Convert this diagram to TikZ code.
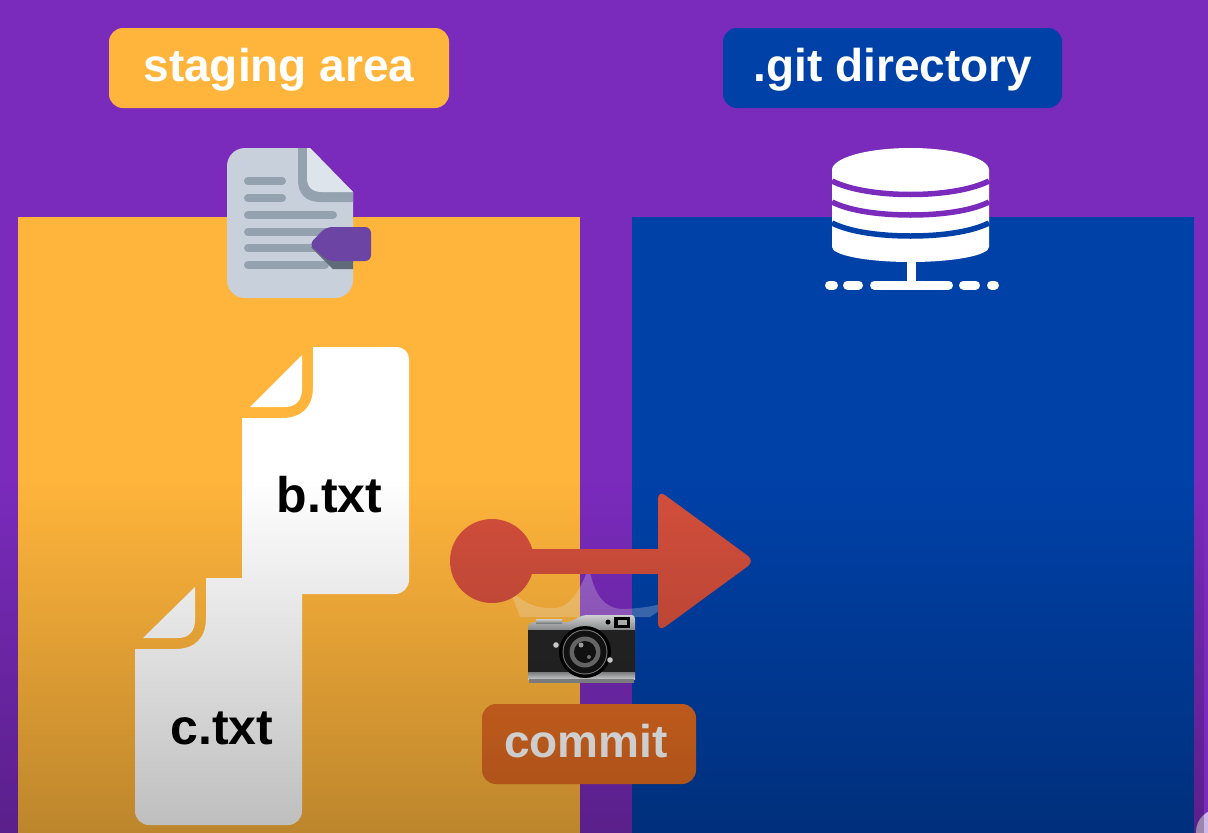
\documentclass[tikz,border=0pt]{standalone}
\usepackage{fontspec}
\setmainfont{Liberation Sans}
\usetikzlibrary{fadings}
\definecolor{bgpurple}{HTML}{7A2BBC}
\definecolor{panelorange}{HTML}{FFB53C}
\definecolor{panelblue}{HTML}{0041A8}
\definecolor{arrowred}{HTML}{D44F3C}
\definecolor{paperc}{HTML}{C8D0DC}
\definecolor{paperlight}{HTML}{DDE4EC}
\definecolor{paperline}{HTML}{93A2AE}
\definecolor{tagpurple}{HTML}{6B44A4}
\definecolor{tagshade}{HTML}{5F6B78}
\definecolor{commitbox}{HTML}{E26C22}
\definecolor{silverhi}{HTML}{E6E7E8}
\definecolor{silverlo}{HTML}{8E9092}
\tikzfading[name=dimfade, top color=transparent!100, bottom color=transparent!0]
\tikzset{
  x=1pt,y=-1pt,
  labelbox/.style={rounded corners=14pt,line width=0pt},
  labeltext/.style={text=white,font=\fontsize{46}{50}\selectfont\bfseries,anchor=base},
  filetext/.style={text=black,font=\fontsize{50}{54}\selectfont\bfseries,anchor=base},
  docline/.style={line width=8pt,line cap=round,draw=paperline},
  dbgap/.style={line width=5.5pt},
  dbdash/.style={line width=9pt,line cap=round,draw=white},
}
\begin{document}
\begin{tikzpicture}
\useasboundingbox (0,0) rectangle (1208,833);
\fill[bgpurple] (0,0) rectangle (1208,833);
% panels
\fill[panelorange] (18,217) rectangle (580,833);
\fill[panelblue] (632,217) rectangle (1194,833);
% label boxes
\fill[panelorange,labelbox] (109,28) rectangle (449,108);
\fill[panelblue,labelbox] (723,28) rectangle (1062,108);
\node[labeltext] (stagelabel) at (279,81) {staging area};
\node[labeltext] (gitlabel) at (893,81) {.git directory};
% document icon
\fill[paperc] (245,148) -- (310,148) -- (353,192) -- (353,280) arc[start angle=0,end angle=90,radius=18] -- (245,298) arc[start angle=90,end angle=180,radius=18] -- (227,166) arc[start angle=180,end angle=270,radius=18] -- cycle;
\fill[paperline] (298,148) -- (310,148) -- (353,192) -- (353,202) -- (320,202) .. controls (306,202) and (298,194) .. (298,180) -- cycle;
\fill[paperlight] (307,148) -- (310,148) -- (353,192) -- (322,192) .. controls (312,192) and (307,187) .. (307,178) -- cycle;
\draw[docline] (248,181) -- (282,181);
\draw[docline] (248,198) -- (282,198);
\draw[docline] (248,215) -- (333,215);
\draw[docline] (248,232) -- (325,232);
\draw[docline] (248,248) -- (315,248);
\draw[docline] (248,265) -- (325,265);
\fill[tagshade] (311,247) -- (333,269) -- (353,269) -- (353,255) -- cycle;
\fill[tagpurple,rounded corners=6pt] (309,244.5) -- (326,227) -- (371,227) -- (371,261) -- (328,261) -- cycle;
% database icon
\fill[white] (832,170) -- (989,170) -- (989,247) arc[start angle=0,end angle=180,x radius=78.5,y radius=15] -- cycle;
\fill[white] (910.5,170) ellipse[x radius=78.5,y radius=22];
\draw[dbgap,bgpurple] (832,181) .. controls (850,190) and (880,194.5) .. (910.5,194.5) .. controls (941,194.5) and (971,190) .. (989,181);
\draw[dbgap,bgpurple] (832,202) .. controls (850,211) and (880,215) .. (910.5,215) .. controls (941,215) and (971,211) .. (989,202);
\draw[dbgap,panelblue] (832,223) .. controls (850,232) and (880,236) .. (910.5,236) .. controls (941,236) and (971,232) .. (989,223);
\fill[white] (907,258) rectangle (916,283);
\draw[dbdash] (829.5,285) -- (833.5,285);
\draw[dbdash] (847.5,285) -- (858.5,285);
\draw[dbdash] (874.5,285) -- (948.5,285);
\draw[dbdash] (963.5,285) -- (975.5,285);
\draw[dbdash] (991.5,285) -- (994.5,285);
% c.txt sheet
\fill[white] (206,578) -- (302,578) -- (302,811) arc[start angle=0,end angle=90,radius=14] -- (149,825) arc[start angle=90,end angle=180,radius=14] -- (135,649) -- (175,649) .. controls (195,649) and (206,638) .. (206,618) -- cycle;
\fill[white] (195,587) -- (143,638) -- (178,638) .. controls (189,638) and (195,631) .. (195,620) -- cycle;
% b.txt sheet
\fill[white] (313,347) -- (397,347) arc[start angle=270,end angle=360,radius=12] -- (409,580) arc[start angle=0,end angle=90,radius=14] -- (302,594) -- (302,578) -- (242,578) -- (242,418) -- (282,418) .. controls (302,418) and (313,407) .. (313,387) -- cycle;
\fill[white] (302,355) -- (250,407) -- (285,407) .. controls (296,407) and (302,400) .. (302,389) -- cycle;
\node[filetext] (btxt) at (329.5,512) {b.txt};
\node[filetext] (ctxt) at (222,744) {c.txt};
% flash glow
\fill[white,opacity=.25] (510,590) .. controls (525,605) and (540,609) .. (555,608) .. controls (572,607) and (582,585) .. (589,567) .. controls (593,590) and (602,610) .. (625,609) .. controls (645,608) and (660,605) .. (675,600) -- (650,617) -- (520,617) -- cycle;
% arrow
\fill[arrowred] (492,561) circle[radius=42];
\fill[arrowred] (525,548.5) rectangle (665,573.5);
\fill[arrowred,rounded corners=9pt] (658,490) -- (755,561) -- (658,632) -- cycle;
% camera
\shade[top color=silverhi,bottom color=silverlo] (528,632) -- (528,628) .. controls (528,624) and (531,622) .. (535,622) -- (566,622) .. controls (574,622) and (578,615) .. (588,615) -- (632,615) .. controls (634,615) and (635,617) .. (635,619) -- (635,632) -- cycle;
\shade[top color=silverhi,bottom color=silverlo] (536,619) rectangle (562,623);
\fill[black!85] (528,630) rectangle (635,672);
\shade[top color=silverlo,bottom color=silverhi] (528,672) rectangle (635,679);
\fill[silverlo] (529,679) rectangle (634,683);
\fill[black] (614,617) rectangle (630,628);
\fill[black!25] (618,620) rectangle (627,625);
\fill[black] (608,622) circle[radius=2.5];
\fill[black] (585,652) circle[radius=26];
\fill[black!45] (585,652) circle[radius=22.5];
\fill[black!92] (585,652) circle[radius=21.5];
\fill[black!55] (585,652) circle[radius=15.5];
\fill[black!92] (585,652) circle[radius=11];
\fill[black!30] (581,645) circle[radius=2.5];
\fill[black!50] (589,657) circle[radius=2];
\fill[black!10] (556,645) circle[radius=2.8];
\fill[black!10] (610,660) circle[radius=2.8];
% commit label
\fill[commitbox,labelbox] (482,704) rectangle (696,784);
\node[labeltext] (commitlabel) at (586,757) {commit};
% corner badge
\fill[white!65!bgpurple] (1219,832) circle[radius=23];
% bottom dimming over everything
\fill[black,opacity=.26,path fading=dimfade] (0,480) rectangle (1208,833);
\end{tikzpicture}
\end{document}
